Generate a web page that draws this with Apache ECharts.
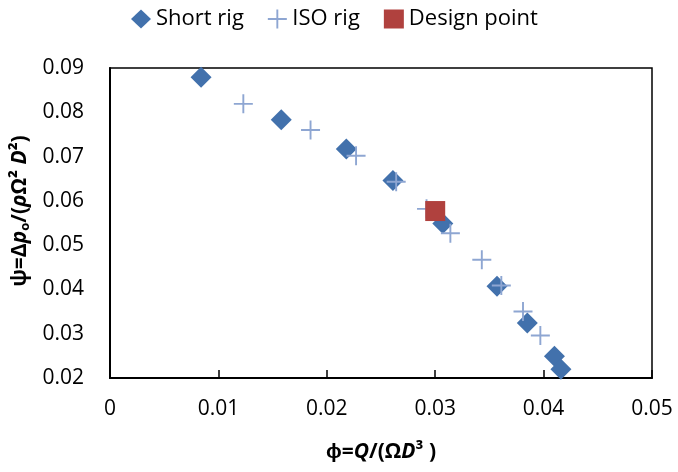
<!DOCTYPE html>
<html>
<head>
<meta charset="utf-8">
<script src="https://cdn.jsdelivr.net/npm/echarts@6/dist/echarts.min.js"></script>
<style>html,body{margin:0;padding:0;background:#fff}#c{width:678px;height:472px}</style>
</head>
<body>
<div id="c"></div>
<script>
var shortPhi = [0.0084, 0.0158, 0.0218, 0.0261, 0.0307, 0.0357, 0.0385, 0.0410, 0.0416];
var shortPsi = [0.0879, 0.0783, 0.0717, 0.0646, 0.0549, 0.0407, 0.0324, 0.0249, 0.0220];
var isoPhi = [0.0123, 0.0185, 0.0227, 0.0264, 0.0292, 0.0314, 0.0343, 0.0361, 0.0381, 0.0397];
var isoPsi = [0.0819, 0.0760, 0.0702, 0.0643, 0.0582, 0.0527, 0.0467, 0.0409, 0.0350, 0.0296];
var designPhi = [0.0300];
var designPsi = [0.0577];
var seriesNames = ['Short rig', 'ISO rig', 'Design point'];

function pairs(xs, ys) { return xs.map(function (x, i) { return [x, ys[i]]; }); }

var FONT = '"Open Sans", sans-serif';
var crossPath = 'path://M9,0h2v9h9v2h-9v9h-2v-9h-9v-2h9z';

var chart = echarts.init(document.getElementById('c'));
chart.setOption({
  animation: false,
  backgroundColor: '#fff',
  textStyle: { fontFamily: FONT },
  legend: {
    top: 3, left: 126,
    itemWidth: 20, itemHeight: 19, itemGap: 24,
    textStyle: { fontFamily: FONT, fontSize: 22, color: '#000' },
    data: seriesNames
  },
  grid: {
    left: 110, right: 26, top: 68, bottom: 94,
    show: true, borderColor: '#000', borderWidth: 1.5
  },
  xAxis: {
    type: 'value', min: 0, max: 0.05, interval: 0.01,
    splitLine: { show: false },
    axisLine: { lineStyle: { color: '#000', width: 2 } },
    axisTick: { inside: true, length: 8, lineStyle: { color: '#000', width: 1.5 } },
    axisLabel: {
      fontFamily: FONT, fontSize: 21, color: '#000', margin: 21,
      formatter: function (v) { return v === 0 ? '0' : v.toFixed(2); }
    },
    name: '{b|ϕ=}{bi|Q}{b|/(Ω}{bi|D}{b|³ )}',
    nameLocation: 'middle', nameGap: 64,
    nameTextStyle: {
      rich: {
        b: { fontFamily: FONT, fontSize: 21, fontWeight: 'bold', color: '#000' },
        bi: { fontFamily: FONT, fontSize: 21, fontWeight: 'bold', fontStyle: 'italic', color: '#000' }
      }
    }
  },
  yAxis: {
    type: 'value', min: 0.02, max: 0.09, interval: 0.01,
    splitLine: { show: false },
    axisLine: { show: true, lineStyle: { color: '#000', width: 2 } },
    axisTick: { show: false },
    axisLabel: {
      fontFamily: FONT, fontSize: 21, color: '#000', margin: 26,
      formatter: function (v) { return v.toFixed(2); }
    },
    name: '{b|ψ=Δ}{bi|p}{s|o}{b|/(}{bi|ρ}{b|Ω² }{bi|D}{b|²)}',
    nameLocation: 'middle', nameGap: 74, nameRotate: 90,
    nameTextStyle: {
      padding: [0, 0, 0, 24],
      rich: {
        b: { fontFamily: FONT, fontSize: 21, fontWeight: 'bold', color: '#000' },
        bi: { fontFamily: FONT, fontSize: 21, fontWeight: 'bold', fontStyle: 'italic', color: '#000' },
        s: { fontFamily: FONT, fontSize: 13, fontWeight: 'bold', color: '#000', padding: [10, 0, 0, 0] }
      }
    }
  },
  series: [
    {
      name: seriesNames[0], type: 'scatter', symbol: 'diamond', symbolSize: 21,
      itemStyle: { color: '#4271AC', opacity: 1 }, clip: false,
      data: pairs(shortPhi, shortPsi)
    },
    {
      name: seriesNames[1], type: 'scatter', symbol: crossPath, symbolSize: 19,
      itemStyle: { color: '#8EA6D2', opacity: 1 }, clip: false,
      data: pairs(isoPhi, isoPsi)
    },
    {
      name: seriesNames[2], type: 'scatter', symbol: 'rect', symbolSize: 20,
      itemStyle: { color: '#B0413E', opacity: 1 }, clip: false,
      data: pairs(designPhi, designPsi)
    }
  ]
});
</script>
</body>
</html>
